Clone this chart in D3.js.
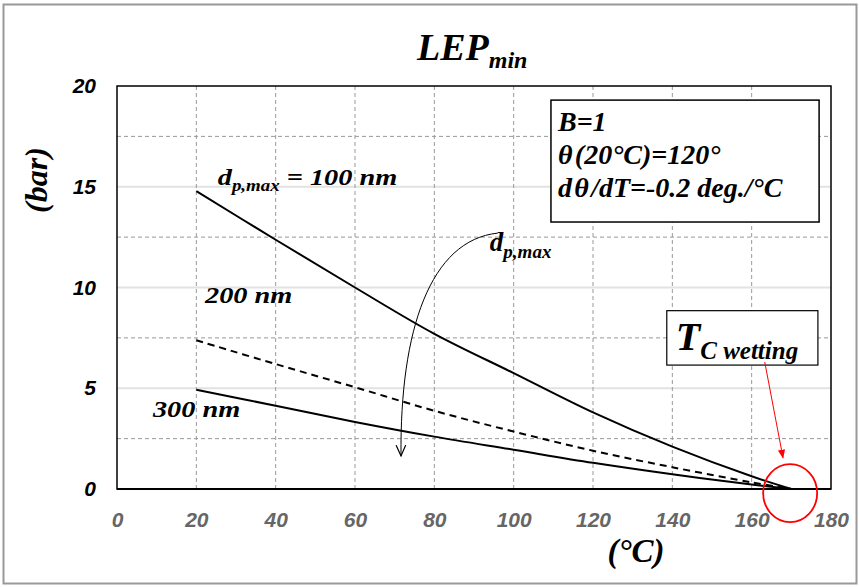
<!DOCTYPE html>
<html>
<head>
<meta charset="utf-8">
<title>LEPmin</title>
<script src="https://cdn.jsdelivr.net/npm/d3@7"></script>
<style>
  body { margin: 0; background: #fff; }
  .serif { font-family: "Liberation Serif", "Times New Roman", serif; font-weight: bold; font-style: italic; }
  .tick text { font-family: "Liberation Sans", Arial, sans-serif; font-weight: bold; font-style: italic; font-size: 21px; }
</style>
</head>
<body>
<script>
// data (LEP in bar vs temperature in degC)
var temps   = [20, 40, 60, 80, 100, 120, 140, 160, 170];
var lep100  = [14.78, 12.37, 10.0, 7.7, 5.75, 3.8, 2.1, 0.63, 0];
var lep200  = [7.38, 6.2, 5.05, 3.88, 2.85, 1.9, 1.08, 0.33, 0];
var lep300  = [4.93, 4.13, 3.33, 2.6, 1.95, 1.3, 0.73, 0.22, 0];
var xTicks  = [0, 20, 40, 60, 80, 100, 120, 140, 160, 180];
var yTicks  = [0, 5, 10, 15, 20];
var yMinor  = [2.5, 7.5, 12.5, 17.5];

var W = 859, H = 587;
var pLeft = 117, pRight = 831, pTop = 86, pBottom = 489;

var svg = d3.select("body").append("svg")
    .attr("width", W).attr("height", H);

svg.append("rect").attr("width", W).attr("height", H).attr("fill", "#fff");
// outer frame
svg.append("rect")
    .attr("x", 3.5).attr("y", 4.5).attr("width", 853).attr("height", 579)
    .attr("fill", "none").attr("stroke", "#999").attr("stroke-width", 2);

var x = d3.scaleLinear().domain([0, 180]).range([pLeft, pRight]);
var y = d3.scaleLinear().domain([0, 20]).range([pBottom, pTop]);

// grid
var grid = svg.append("g");
grid.selectAll(".hmaj").data(yTicks.slice(1, -1)).enter().append("line")
    .attr("x1", pLeft).attr("x2", pRight)
    .attr("y1", d => y(d)).attr("y2", d => y(d))
    .attr("stroke", "#e2e2e2").attr("stroke-width", 2);
grid.selectAll(".hmin").data(yMinor).enter().append("line")
    .attr("x1", pLeft).attr("x2", pRight)
    .attr("y1", d => y(d)).attr("y2", d => y(d))
    .attr("stroke", "#999").attr("stroke-width", 1).attr("stroke-dasharray", "4,3");
grid.selectAll(".v").data(xTicks.slice(1, -1)).enter().append("line")
    .attr("x1", d => x(d)).attr("x2", d => x(d))
    .attr("y1", pTop).attr("y2", pBottom)
    .attr("stroke", "#999").attr("stroke-width", 1).attr("stroke-dasharray", "4,3");

// axes (labels only, frame drawn separately)
var yAxis = svg.append("g").attr("transform", "translate(" + pLeft + ",0)")
    .call(d3.axisLeft(y).tickValues(yTicks).tickSize(0).tickPadding(21));
yAxis.select(".domain").remove();
yAxis.selectAll("text").attr("fill", "#000");

var xAxis = svg.append("g").attr("transform", "translate(0," + pBottom + ")")
    .call(d3.axisBottom(x).tickValues(xTicks).tickSize(0).tickPadding(23));
xAxis.select(".domain").remove();
xAxis.selectAll("text").attr("fill", "#666");

// plot frame
svg.append("rect")
    .attr("x", pLeft).attr("y", pTop).attr("width", pRight - pLeft).attr("height", pBottom - pTop)
    .attr("fill", "none").attr("stroke", "#000").attr("stroke-width", 1.5);
svg.append("line").attr("x1", pLeft).attr("x2", pRight).attr("y1", pBottom).attr("y2", pBottom)
    .attr("stroke", "#000").attr("stroke-width", 2);

// curves
var line = d3.line().x((d, i) => x(temps[i])).y(d => y(d)).curve(d3.curveCatmullRom.alpha(0.5));
svg.append("path").datum(lep100).attr("d", line)
    .attr("fill", "none").attr("stroke", "#000").attr("stroke-width", 2);
svg.append("path").datum(lep200).attr("d", line)
    .attr("fill", "none").attr("stroke", "#000").attr("stroke-width", 2).attr("stroke-dasharray", "7,5");
svg.append("path").datum(lep300).attr("d", line)
    .attr("fill", "none").attr("stroke", "#000").attr("stroke-width", 2);

// title and axis labels
var title = svg.append("text").attr("class", "serif").attr("x", 417).attr("y", 60);
title.append("tspan").attr("font-size", 38).text("LEP");
title.append("tspan").attr("font-size", 24).attr("dy", 8).text("min");

svg.append("text").attr("class", "serif").attr("font-size", 32)
    .attr("text-anchor", "middle")
    .attr("transform", "translate(47,180) rotate(-90)")
    .text("(bar)");

svg.append("text").attr("class", "serif").attr("font-size", 33)
    .attr("text-anchor", "middle").attr("x", 636).attr("y", 562)
    .text("(°C)");

// curve labels
function label(px, py, parts) {
  var t = svg.append("text").attr("class", "serif")
      .attr("transform", "translate(" + px + "," + py + ") scale(1.18,1)");
  parts.forEach(function (p) {
    t.append("tspan").attr("font-size", p[1]).attr("dy", p[2] || 0).text(p[0]);
  });
  return t;
}
label(x(25.4), y(15.1), [["d", 24], ["p,max", 16, 6], [" = 100 nm", 24, -6]]);
label(x(22.2), y(9.23), [["200 nm", 24]]);
label(x(9.05), y(3.57), [["300 nm", 24]]);

// d_p,max arrow
var defs = svg.append("defs");
defs.append("marker").attr("id", "openArrow")
    .attr("viewBox", "0 0 10 10").attr("refX", 9).attr("refY", 5)
    .attr("markerWidth", 12).attr("markerHeight", 12).attr("orient", "auto")
    .attr("markerUnits", "userSpaceOnUse")
    .append("path").attr("d", "M0,1 L9,5 L0,9").attr("fill", "none").attr("stroke", "#000").attr("stroke-width", 1);
defs.append("marker").attr("id", "redArrow")
    .attr("viewBox", "0 0 10 10").attr("refX", 9).attr("refY", 5)
    .attr("markerWidth", 9).attr("markerHeight", 9).attr("orient", "auto")
    .attr("markerUnits", "userSpaceOnUse")
    .append("path").attr("d", "M0,1 L10,5 L0,9 Z").attr("fill", "#f00");

var p0 = [x(96.0), y(12.7)], p3 = [x(71.6), y(1.64)];
var c1 = [x(79.0), y(12.35)], c2 = [x(71.3), y(7.9)];
svg.append("path")
    .attr("d", "M" + p0 + " C" + c1 + " " + c2 + " " + p3)
    .attr("fill", "none").attr("stroke", "#000").attr("stroke-width", 1)
    .attr("marker-end", "url(#openArrow)");

var dp = svg.append("text").attr("class", "serif").attr("x", x(94.0)).attr("y", y(11.8));
dp.append("tspan").attr("font-size", 27).text("d");
dp.append("tspan").attr("font-size", 19).attr("dy", 7).text("p,max");

// parameter box
var bx0 = x(109.4), bx1 = x(177.0), by0 = y(19.3), by1 = y(13.25);
svg.append("rect").attr("x", bx0).attr("y", by0).attr("width", bx1 - bx0).attr("height", by1 - by0)
    .attr("fill", "#fff").attr("stroke", "#000").attr("stroke-width", 1.5);
var boxLines = ["B=1", "θ\u200A(20°C)=120°", "d\u200Aθ\u200A/dT=-0.2 deg./°C"];
svg.selectAll(".boxline").data(boxLines).enter().append("text")
    .attr("class", "serif").attr("font-size", 28)
    .attr("x", bx0 + 7).attr("y", (d, i) => by0 + 31 + i * 33)
    .text(d => d);

// T_C wetting annotation
var tx0 = x(138.6), tx1 = x(176.7), ty0 = y(8.85), ty1 = y(6.15);
svg.append("rect").attr("x", tx0).attr("y", ty0).attr("width", tx1 - tx0).attr("height", ty1 - ty0)
    .attr("fill", "#fff").attr("stroke", "#000").attr("stroke-width", 1.2);
var tc = svg.append("text").attr("class", "serif").attr("x", tx0 + 9).attr("y", ty0 + 39);
tc.append("tspan").attr("font-size", 40).text("T");
tc.append("tspan").attr("font-size", 25).attr("dy", 9).text("C wetting");

svg.append("line")
    .attr("x1", x(163.3)).attr("y1", y(6.3)).attr("x2", x(167.9)).attr("y2", y(1.55))
    .attr("stroke", "#f00").attr("stroke-width", 1).attr("marker-end", "url(#redArrow)");
svg.append("ellipse")
    .attr("cx", x(169.7)).attr("cy", y(-0.2)).attr("rx", 27).attr("ry", 29)
    .attr("fill", "none").attr("stroke", "#f00").attr("stroke-width", 1.8);
</script>
</body>
</html>
